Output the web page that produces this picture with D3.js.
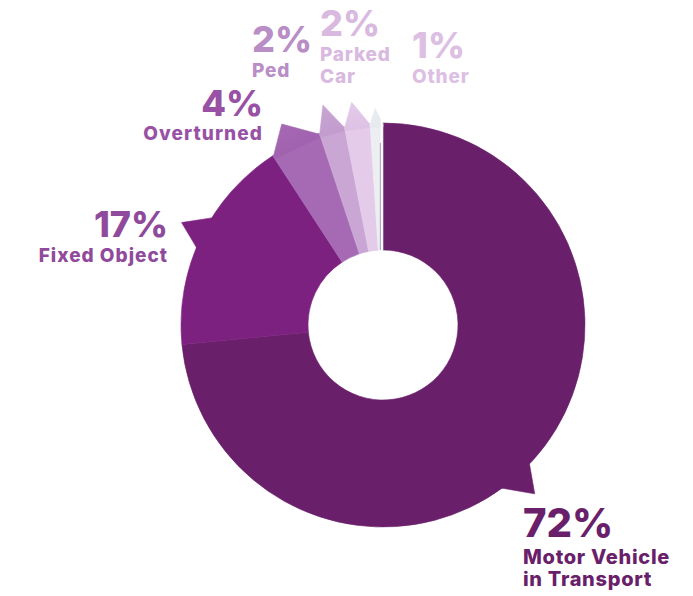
<!DOCTYPE html>
<html>
<head>
<meta charset="utf-8">
<script src="https://cdn.jsdelivr.net/npm/d3@7"></script>
<style>
  html, body { margin: 0; padding: 0; background: #ffffff; }
  svg { display: block; }
  text { font-family: Inter, Lato, "Open Sans", sans-serif; font-weight: 800; }
</style>
</head>
<body>
<svg id="chart" width="693" height="596"></svg>
<script>
// ---- data ----
const categories = ["Motor Vehicle in Transport", "Fixed Object", "Overturned", "Ped", "Parked Car", "Other"];
const values = [72, 17, 4, 2, 2, 1];
const pctLabels = ["72%", "17%", "4%", "2%", "2%", "1%"];
const nameLines = [["Motor Vehicle", "in Transport"], ["Fixed Object"], ["Overturned"], ["Ped"], ["Parked", "Car"], ["Other"]];

// ---- style / layout ----
const sliceInner = ["#6a1f6b", "#7c2180", "#8e45a0", "#a574b6", "#c9a0d3", "#cfd5de"];
const sliceOuter = ["#6a1f6b", "#7c2180", "#a669b3", "#c9a6d3", "#e4cbea", "#eceef2"];
const textColors  = ["#6a1f6b", "#8f4a9b", "#9851a4", "#b98dc6", "#d9b9e0", "#dcbfe3"];
// callout tabs: base span as fraction of slice, tip position fraction, tip radius
const tabs = [
  {f0: 0.504, f1: 0.545, ft: 0.522, r: 227},
  {f0: 0.446, f1: 0.605, ft: 0.52, r: 226},
  {f0: 0.0, f1: 1.0, ft: 0.43, r: 225},
  {f0: 0.0, f1: 1.0, ft: 0.42, r: 228},
  {f0: 0.0, f1: 1.0, ft: 0.41, r: 225},
  {f0: 0.0, f1: 1.0, ft: 0.43, r: 217}
];
// label layout
const labelPos = [
  {x: 523, y: 537, anchor: "start", big: 40, small: 20, ls: 0.7, gap: [27, 49]},
  {x: 168, y: 237, anchor: "end", big: 36, small: 19, ls: 1.0, gap: [25]},
  {x: 263, y: 116, anchor: "end", big: 36, small: 19, ls: 1.1, gap: [24]},
  {x: 252, y: 52, anchor: "start", big: 36, small: 19, ls: 0.8, gap: [25]},
  {x: 320, y: 36, anchor: "start", big: 36, small: 19, ls: 0.8, gap: [25, 47]},
  {x: 412, y: 58, anchor: "start", big: 36, small: 19, ls: 0.8, gap: [25]}
];

const cx = 383, cy = 325, rIn = 75, rOut = 202, rMax = 230;

const svg = d3.select("#chart");
const defs = svg.append("defs");
const g = svg.append("g");

const pie = d3.pie().sort(null).value(d => d)
  .startAngle(0).endAngle(2 * Math.PI);
const arcs = pie(values);

arcs.forEach((d, i) => {
  const gr = defs.append("radialGradient")
    .attr("id", "grad" + i)
    .attr("gradientUnits", "userSpaceOnUse")
    .attr("cx", cx).attr("cy", cy).attr("r", rMax);
  gr.append("stop").attr("offset", rIn / rMax).attr("stop-color", sliceInner[i]);
  gr.append("stop").attr("offset", 1).attr("stop-color", sliceOuter[i]);
});

const ringArc = d3.arc().innerRadius(rIn).outerRadius(rOut);
const pt = (r, a) => [cx + r * Math.sin(a), cy - r * Math.cos(a)];

arcs.forEach((d, i) => {
  const span = d.endAngle - d.startAngle;
  const t = tabs[i];
  const a0 = d.startAngle + t.f0 * span;
  const a1 = d.startAngle + t.f1 * span;
  const at = d.startAngle + t.ft * span;
  const fill = `url(#grad${i})`;
  g.append("path")
    .attr("transform", `translate(${cx},${cy})`)
    .attr("d", ringArc(d))
    .attr("fill", fill)
    .attr("stroke", fill)
    .attr("stroke-width", 0.6);
  const pts = [pt(rOut - 4, a0), pt(rOut - 1, a0), pt(t.r, at), pt(rOut - 1, a1), pt(rOut - 4, a1)];
  g.append("path")
    .attr("d", d3.line()(pts) + "Z")
    .attr("fill", fill)
    .attr("stroke", fill)
    .attr("stroke-width", 0.6);
});

// thin separator between last slice and first slice
g.append("line")
  .attr("x1", cx - 1.5).attr("y1", cy - rIn)
  .attr("x2", cx - 1.5).attr("y2", cy - rOut - 8)
  .attr("stroke", "#ffffff").attr("stroke-width", 1.5);
g.append("line")
  .attr("x1", cx - 2.6).attr("y1", cy - rIn)
  .attr("x2", cx - 2.6).attr("y2", cy - rOut + 20)
  .attr("stroke", "#8a93a8").attr("stroke-width", 0.8);

// ---- labels ----
categories.forEach((c, i) => {
  const p = labelPos[i];
  svg.append("text")
    .attr("x", p.x).attr("y", p.y)
    .attr("text-anchor", p.anchor)
    .attr("fill", textColors[i])
    .style("font-size", p.big + "px")
    .text(pctLabels[i]);
  nameLines[i].forEach((ln, j) => {
    svg.append("text")
      .attr("x", p.x).attr("y", p.y + p.gap[j])
      .attr("text-anchor", p.anchor)
      .attr("fill", textColors[i])
      .style("font-size", p.small + "px")
      .style("letter-spacing", p.ls + "px")
      .text(ln);
  });
});
</script>
</body>
</html>
